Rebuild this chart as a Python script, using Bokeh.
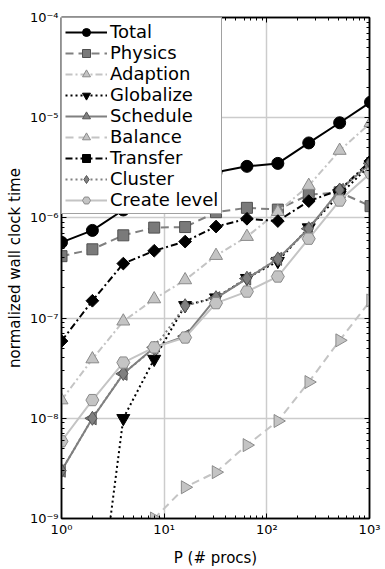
import numpy as np
from bokeh.plotting import figure
from bokeh.models import Legend, LegendItem, LogAxis, FixedTicker, CustomJSTickFormatter
from bokeh.embed import file_html
from bokeh.resources import INLINE

# ---- data ----
procs = [1, 2, 4, 8, 16, 32, 64, 128, 256, 512, 1024]
total = [5.7e-7, 7.5e-7, 1.2e-6, 1.5e-6, 2.07e-6, 2.85e-6, 3.27e-6, 3.5e-6, 5.6e-6, 8.9e-6, 1.43e-5]
physics = [4.15e-7, 4.86e-7, 6.7e-7, 8.0e-7, 8.1e-7, 1.14e-6, 1.26e-6, 1.21e-6, 1.7e-6, 1.8e-6, 1.31e-6]
adaption = [1.52e-8, 3.9e-8, 9.3e-8, 1.55e-7, 2.4e-7, 4.2e-7, 6.5e-7, 1.15e-6, 2.1e-6, 4.7e-6, 8.9e-6]
globalize = [1e-11, 4e-11, 1.0e-8, 3.9e-8, 1.34e-7, 1.6e-7, 2.5e-7, 3.7e-7, 8.0e-7, 1.7e-6, 3.4e-6]
schedule = [3.0e-9, 1.0e-8, 2.78e-8, 5.1e-8, 6.6e-8, 1.58e-7, 2.48e-7, 3.9e-7, 7.8e-7, 1.9e-6, 3.5e-6]
balance = [2e-11, 5e-11, 1.5e-10, 1.0e-9, 2.05e-9, 2.9e-9, 5.4e-9, 9.4e-9, 2.3e-8, 6.0e-8, 1.5e-7]
transfer = [5.9e-8, 1.49e-7, 3.5e-7, 4.7e-7, 5.8e-7, 8.2e-7, 9.8e-7, 9.3e-7, 1.47e-6, 1.9e-6, 3.7e-6]
cluster = [3.0e-9, 1.0e-8, 2.8e-8, 5.0e-8, 1.33e-7, 1.6e-7, 2.5e-7, 3.9e-7, 7.8e-7, 1.9e-6, 3.6e-6]
create_level = [5.9e-9, 1.52e-8, 3.6e-8, 5.1e-8, 6.4e-8, 1.41e-7, 1.84e-7, 2.6e-7, 6.2e-7, 1.49e-6, 2.8e-6]

labels = ["Total", "Physics", "Adaption", "Globalize", "Schedule",
          "Balance", "Transfer", "Cluster", "Create level"]
series = [total, physics, adaption, globalize, schedule,
          balance, transfer, cluster, create_level]

y_major = [1e-9, 1e-8, 1e-7, 1e-6, 1e-5, 1e-4]
x_major = [1, 10, 100, 1000]

# ---- styles ----
BLK, DG, LG = "#000000", "#808080", "#c4c4c4"
styles = [
    dict(color=BLK, dash="solid", marker="circle", fill=BLK, edge=BLK, size=12, angle=0),
    dict(color=DG, dash="8 5", marker="square", fill="#7a7a7a", edge="#505050", size=11, angle=0),
    dict(color=LG, dash="7 3 2 3", marker="triangle", fill=LG, edge="#8a8a8a", size=13, angle=0),
    dict(color=BLK, dash="2 3", marker="inverted_triangle", fill=BLK, edge=BLK, size=13, angle=0),
    dict(color=DG, dash="solid", marker="triangle", fill=DG, edge="#555555", size=13, angle=np.pi / 2),
    dict(color=LG, dash="8 5", marker="triangle", fill=LG, edge="#8a8a8a", size=13, angle=-np.pi / 2),
    dict(color=BLK, dash="7 3 2 3", marker="square", fill=BLK, edge=BLK, size=9, angle=np.pi / 4),
    dict(color=DG, dash="2 3", marker="diamond", fill=DG, edge="#555555", size=14, angle=0),
    dict(color=LG, dash="solid", marker="hex", fill=LG, edge="#8a8a8a", size=13, angle=0),
]

FONT = "DejaVu Sans"

p = figure(width=385, height=569, x_axis_type="log", y_axis_type="log",
           x_range=(1, 1000), y_range=(1e-9, 1e-4),
           output_backend="svg", toolbar_location=None,
           min_border_left=61, min_border_right=16, min_border_top=17, min_border_bottom=44)

y_minor = [m * e for e in y_major[:-1] for m in range(2, 10)]
x_minor = [m * e for e in x_major[:-1] for m in range(2, 10)]
xt = FixedTicker(ticks=x_major, minor_ticks=x_minor)
yt = FixedTicker(ticks=y_major, minor_ticks=y_minor)

sup_code = """
const e = Math.round(Math.log10(tick));
const m = {"-":"\u207b","0":"\u2070","1":"\u00b9","2":"\u00b2","3":"\u00b3","4":"\u2074","5":"\u2075","6":"\u2076","7":"\u2077","8":"\u2078","9":"\u2079"};
return "10" + String(e).split("").map(c => m[c]).join("");
"""

def style_axis(ax, ticker, show_labels, label_standoff=6):
    ax.ticker = ticker
    ax.major_tick_in = 5
    ax.major_tick_out = 0
    ax.minor_tick_in = 3
    ax.minor_tick_out = 0
    ax.axis_line_color = "black"
    ax.axis_line_width = 1.5
    ax.major_tick_line_color = "black"
    ax.minor_tick_line_color = "black"
    if show_labels:
        ax.formatter = CustomJSTickFormatter(code=sup_code)
        ax.major_label_text_font = FONT
        ax.major_label_text_font_size = "13px"
        ax.major_label_text_color = "black"
        ax.major_label_standoff = 3
        ax.axis_label_text_font = FONT
        ax.axis_label_text_font_size = "15px"
        ax.axis_label_text_font_style = "normal"
        ax.axis_label_text_color = "black"
        ax.axis_label_standoff = label_standoff
    else:
        ax.formatter = CustomJSTickFormatter(code="return '';")
        ax.major_label_standoff = 0
        ax.major_label_text_font_size = "1px"

style_axis(p.xaxis[0], xt, True, label_standoff=9)
style_axis(p.yaxis[0], yt, True, label_standoff=3)
p.xaxis[0].axis_label = "P (# procs)"
p.yaxis[0].axis_label = "normalized wall clock time"

top_ax = LogAxis()
right_ax = LogAxis()
style_axis(top_ax, xt, False)
style_axis(right_ax, yt, False)
p.add_layout(top_ax, "above")
p.add_layout(right_ax, "right")

p.xgrid.ticker = xt
p.ygrid.ticker = yt
for g in (p.xgrid, p.ygrid):
    g.grid_line_color = "#cccccc"
    g.grid_line_width = 1.5
    g.minor_grid_line_color = None

p.outline_line_color = "black"
p.outline_line_width = 1.5
p.background_fill_color = "white"
p.border_fill_color = "white"

items = []
for lab, ys, st in zip(labels, series, styles):
    lr = p.line(procs, ys, line_color=st["color"], line_dash=st["dash"], line_width=2)
    sr = p.scatter(procs, ys, marker=st["marker"], size=st["size"], angle=st["angle"],
                   fill_color=st["fill"], line_color=st["edge"], line_width=1)
    items.append(LegendItem(label=lab, renderers=[lr, sr]))

legend = Legend(items=items, location="top_left")
legend.margin = 0
legend.padding = 3
legend.spacing = 0
legend.label_height = 20
legend.glyph_height = 20
legend.glyph_width = 42
legend.label_standoff = 3
legend.label_text_font = FONT
legend.label_text_font_size = "18px"
legend.label_text_color = "black"
legend.border_line_color = "#444444"
legend.border_line_width = 1.5
legend.background_fill_color = "white"
legend.background_fill_alpha = 1.0
p.add_layout(legend)

open("out.html", "w").write(file_html(p, INLINE))
